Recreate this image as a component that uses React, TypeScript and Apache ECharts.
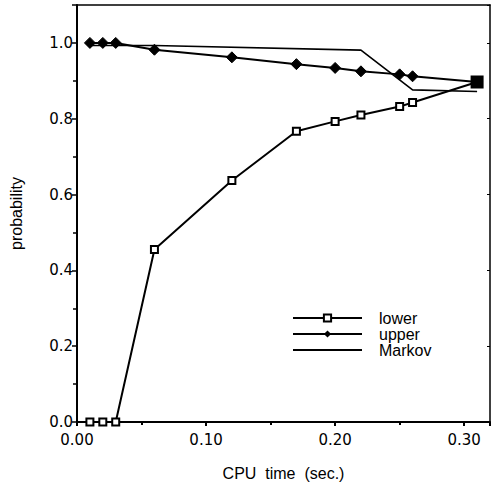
import React, { useEffect, useRef } from "react";
import * as echarts from "echarts";

const seriesNames = ["lower", "upper", "Markov"];
const lowerX = [0.01, 0.02, 0.03, 0.06, 0.12, 0.17, 0.2, 0.22, 0.25, 0.26, 0.31];
const lowerY = [0.0, 0.0, 0.0, 0.455, 0.637, 0.767, 0.793, 0.81, 0.832, 0.843, 0.897];
const upperX = [0.01, 0.02, 0.03, 0.06, 0.12, 0.17, 0.2, 0.22, 0.25, 0.26, 0.31];
const upperY = [1.0, 1.0, 1.0, 0.982, 0.962, 0.944, 0.934, 0.925, 0.917, 0.912, 0.897];
const markovX = [0.01, 0.06, 0.22, 0.26, 0.31];
const markovY = [0.993, 0.993, 0.981, 0.876, 0.872];
const xTicks = [0.0, 0.1, 0.2, 0.3];
const yTicks = [0.0, 0.2, 0.4, 0.6, 0.8, 1.0];

const FONT = "Liberation Sans";
const TICKFONT = "DejaVu Sans";

export default function App() {
  const ref = useRef<HTMLDivElement>(null);
  useEffect(() => {
    if (!ref.current) return;
    const chart = echarts.init(ref.current, null, { renderer: "svg" });
    const near = (v: number, arr: number[]) => arr.some((t) => Math.abs(t - v) < 1e-6);
    const lowerData = lowerX.map((x, i) =>
      i === lowerX.length - 1
        ? { value: [x, lowerY[i]], symbolSize: 11, itemStyle: { color: "#000" } }
        : { value: [x, lowerY[i]] }
    );
    chart.setOption({
      animation: false,
      backgroundColor: "#fff",
      grid: { left: 72, right: 1, top: 5, bottom: 63, containLabel: false },
      legend: {
        orient: "vertical",
        left: 287,
        top: 305,
        itemWidth: 69,
        itemHeight: 9,
        itemGap: 0,
        textStyle: { fontFamily: FONT, fontSize: 16, lineHeight: 16, color: "#000", padding: [0, 0, 0, 12] },
        data: [
          { name: seriesNames[0] },
          { name: seriesNames[1] },
          { name: seriesNames[2], itemStyle: { color: "rgba(0,0,0,0)", borderWidth: 0, opacity: 0 } },
        ],
      },
      xAxis: [
        {
          type: "value",
          min: 0,
          max: 0.32,
          interval: 0.1,
          name: "CPU  time  (sec.)",
          nameLocation: "middle",
          nameGap: 43,
          nameTextStyle: { fontFamily: FONT, fontSize: 16, color: "#000" },
          axisLine: { show: true, lineStyle: { color: "#000", width: 2 } },
          axisTick: { show: true, inside: false, length: 4, lineStyle: { color: "#000", width: 2 } },
          minorTick: { show: true, splitNumber: 2, length: 3, lineStyle: { color: "#000", width: 2 } },
          splitLine: { show: false },
          axisLabel: {
            fontFamily: TICKFONT,
            fontSize: 15,
            lineHeight: 12,
            color: "#000",
            margin: 12,
            showMaxLabel: false,
            formatter: (v: number) => (near(v, xTicks) ? v.toFixed(2) : ""),
          },
        },
        {
          type: "value",
          position: "top",
          min: 0,
          max: 0.32,
          interval: 0.1,
          axisLine: { show: true, onZero: false, lineStyle: { color: "#000", width: 1.5 } },
          axisTick: { show: false },
          axisLabel: { show: false },
          splitLine: { show: false },
        },
      ],
      yAxis: [
        {
          type: "value",
          min: 0,
          max: 1.1,
          interval: 0.2,
          name: "probability",
          nameLocation: "middle",
          nameGap: 53,
          nameTextStyle: { fontFamily: FONT, fontSize: 16, color: "#000" },
          axisLine: { show: true, lineStyle: { color: "#000", width: 2 } },
          axisTick: { show: true, inside: false, length: 5, lineStyle: { color: "#000", width: 1.5 } },
          minorTick: { show: true, splitNumber: 2, length: 4, lineStyle: { color: "#000", width: 1.5 } },
          splitLine: { show: false },
          axisLabel: {
            fontFamily: TICKFONT,
            fontSize: 15,
            lineHeight: 12,
            color: "#000",
            margin: 4,
            showMaxLabel: false,
            formatter: (v: number) => (near(v, yTicks) ? v.toFixed(1) : ""),
          },
        },
        {
          type: "value",
          position: "right",
          min: 0,
          max: 1.1,
          interval: 0.2,
          axisLine: { show: true, onZero: false, lineStyle: { color: "#000", width: 1.5 } },
          axisTick: { show: true, inside: true, length: 3, lineStyle: { color: "#000", width: 1 } },
          axisLabel: { show: false },
          splitLine: { show: false },
        },
      ],
      series: [
        {
          name: "Markov",
          type: "line",
          data: markovX.map((x, i) => [x, markovY[i]]),
          showSymbol: false,
          symbol: "none",
          lineStyle: { color: "#000", width: 1.6 },
          itemStyle: { color: "#000" },
        },
        {
          name: "upper",
          type: "line",
          data: upperX.map((x, i) => [x, upperY[i]]),
          symbol: "diamond",
          symbolSize: 11,
          lineStyle: { color: "#000", width: 2 },
          itemStyle: { color: "#000", borderColor: "#000" },
        },
        {
          name: "lower",
          type: "line",
          data: lowerData,
          symbol: "rect",
          symbolSize: 7,
          lineStyle: { color: "#000", width: 2 },
          itemStyle: { color: "#fff", borderColor: "#000", borderWidth: 2 },
        },
      ],
    });
    return () => chart.dispose();
  }, []);
  return <div ref={ref} style={{ width: 491, height: 486, position: "absolute", left: 0, top: 0 }} />;
}
